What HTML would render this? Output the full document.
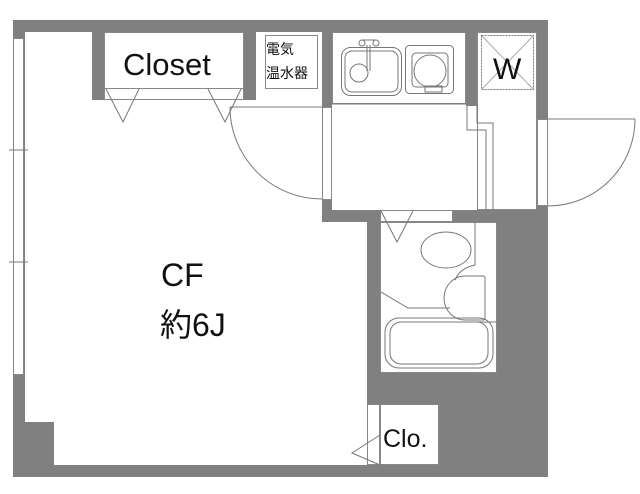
<!DOCTYPE html>
<html><head><meta charset="utf-8"><style>
html,body{margin:0;padding:0;background:#fff;}
svg{display:block;}
text{font-family:"Liberation Sans","Noto Sans CJK JP",sans-serif;fill:#111;}
</style></head><body>
<svg width="640" height="494" viewBox="0 0 640 494" xmlns="http://www.w3.org/2000/svg">
<g fill="#808080">
  <rect x="13" y="20" width="535" height="12"/>
  <rect x="13" y="20" width="12" height="457"/>
  <rect x="13" y="422" width="41" height="55"/>
  <rect x="13" y="465" width="535" height="12"/>
  <rect x="537" y="20" width="11" height="457"/>
  <rect x="92" y="20" width="12" height="80"/>
  <rect x="244" y="20" width="12" height="80"/>
  <rect x="322" y="20" width="10" height="87"/>
  <rect x="322" y="200" width="10" height="22"/>
  <rect x="466" y="20" width="11" height="86"/>
  <rect x="322" y="210" width="226" height="12"/>
  <rect x="367" y="210" width="13" height="267"/>
  <rect x="497" y="210" width="51" height="267"/>
  <rect x="367" y="373" width="181" height="31"/>
  <rect x="439" y="373" width="109" height="104"/>
</g>
<g fill="#fff" stroke="#888" stroke-width="1">
  <rect x="13.5" y="38.5" width="10" height="336"/>
  <rect x="104.5" y="32.5" width="139" height="56"/>
  <rect x="104.5" y="88.5" width="139" height="11"/>
  <rect x="322.5" y="107.5" width="9" height="92"/>
  <rect x="537.5" y="119.5" width="10" height="86"/>
  <rect x="380.5" y="210.5" width="72" height="11"/>
  <rect x="380.5" y="222.5" width="116" height="150"/>
  <rect x="380.5" y="404.5" width="58" height="60"/>
  <rect x="367.5" y="404.5" width="12" height="60"/>
  <rect x="265.5" y="35.5" width="52" height="53"/>
  <rect x="332.5" y="32.5" width="133" height="71"/>
  <rect x="477.5" y="32.5" width="59" height="177"/>
</g>
<g fill="none" stroke="#777" stroke-width="1">
  <line x1="9" y1="150" x2="28" y2="150"/>
  <line x1="9" y1="262" x2="28" y2="262"/>
  <polyline points="106,89 123,122 139,89"/>
  <polyline points="208,89 225,122 241,89"/>
  <line x1="230" y1="107" x2="322" y2="107"/>
  <path d="M230,107 A92,92 0 0 0 322,199"/>
  <line x1="548" y1="119" x2="635" y2="119"/>
  <path d="M635,119 A87,87 0 0 1 548,206"/>
  <polyline points="467,104 467,130 486,130 486,210"/>
  <polyline points="477,104 477,123 493,123 493,210"/>
  <line x1="332" y1="104" x2="466" y2="104"/>
  <rect x="341.5" y="47.5" width="60" height="48" rx="9"/>
  <rect x="345" y="51" width="53" height="41" rx="7"/>
  <circle cx="359" cy="73" r="9"/>
  <path d="M367,45 V71"/>
  <path d="M370,45 V71"/>
  <circle cx="362" cy="43" r="3"/>
  <circle cx="376" cy="43" r="3"/>
  <line x1="362" y1="40" x2="376" y2="40"/>
  <rect x="405.5" y="45.5" width="48" height="48" rx="4"/>
  <rect x="412" y="53" width="36" height="34" rx="4"/>
  <circle cx="430" cy="71" r="16"/>
  <rect x="425" y="86" width="17" height="6"/>
  <rect x="481.5" y="35.5" width="52" height="54" stroke-dasharray="2,1"/>
  <line x1="482" y1="36" x2="533" y2="89" stroke="#aaa"/>
  <line x1="533" y1="36" x2="482" y2="89" stroke="#aaa"/>
  <polyline points="381,211 397,242 413,211"/>
  <ellipse cx="446" cy="250" rx="25" ry="18"/>
  <path d="M475,222 V265 Q460,268 455,280"/>
  <path d="M483,276 H465 A20,21 0 0 0 465,320 H483 Q485,320 485,318 V278 Q485,276 483,276 Z"/>
  <path d="M381,292 L408,308 H450"/>
  <line x1="470" y1="322" x2="497" y2="322"/>
  <rect x="385" y="318" width="108" height="50" rx="14"/>
  <rect x="390" y="322" width="98" height="42" rx="11"/>
  <polyline points="380,435 352,453 380,465"/>
</g>
<text x="123" y="75" font-size="31">Closet</text>
<text x="266" y="54" font-size="14">電気</text>
<text x="266" y="78" font-size="14">温水器</text>
<text x="493" y="79" font-size="30">W</text>
<text x="161" y="286" font-size="32">CF</text>
<text x="160" y="336" font-size="32">約6J</text>
<text x="383" y="447" font-size="25">Clo.</text>
</svg>
</body></html>
